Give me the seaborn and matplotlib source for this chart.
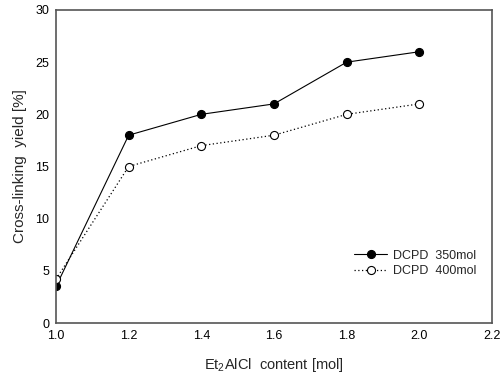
import matplotlib
matplotlib.use("Agg")
import matplotlib.pyplot as plt
import seaborn as sns
import pandas as pd

et2alcl = [1.0, 1.2, 1.4, 1.6, 1.8, 2.0]
yield_350 = [3.5, 18, 20, 21, 25, 26]
yield_400 = [4.2, 15, 17, 18, 20, 21]
x_ticks = [1.0, 1.2, 1.4, 1.6, 1.8, 2.0, 2.2]
y_ticks = [0, 5, 10, 15, 20, 25, 30]

sns.set_theme(style="white")
plt.rcParams["font.family"] = ["Liberation Sans", "DejaVu Sans"]
plt.rcParams["mathtext.fontset"] = "custom"
plt.rcParams["mathtext.rm"] = "Liberation Sans"

df = pd.DataFrame({"x": et2alcl, "a": yield_350, "b": yield_400})

fig = plt.figure(figsize=(5.04, 3.75), dpi=100)
ax = fig.add_axes([56 / 504, 1 - 323 / 375, (492 - 56) / 504, (323 - 10) / 375])

sns.lineplot(data=df, x="x", y="a", ax=ax, color="black", lw=0.8,
             marker="o", markersize=5.8, markerfacecolor="black",
             markeredgecolor="black", markeredgewidth=0.8, label="DCPD  350mol")
sns.lineplot(data=df, x="x", y="b", ax=ax, color="black", lw=0.9,
             linestyle=(0, (1, 2)), marker="o", markersize=5.8,
             markerfacecolor="white", markeredgecolor="black",
             markeredgewidth=0.8, label="DCPD  400mol")

ax.set_xlim(1.0, 2.2)
ax.set_ylim(0, 30)
ax.set_xticks(x_ticks)
ax.set_xticklabels([f"{v:.1f}" for v in x_ticks])
ax.set_yticks(y_ticks)
ax.tick_params(direction="in", length=4, width=0.8, labelsize=9, colors="black",
               pad=5)
for s in ax.spines.values():
    s.set_color("#555555")
    s.set_linewidth(1.2)

ax.set_xlabel("Et$_2$AlCl  content [mol]", fontsize=10.5, labelpad=10)
ax.set_ylabel("Cross-linking  yield [%]", fontsize=11, labelpad=6)

leg = ax.legend(loc="center right", bbox_to_anchor=(0.99, 0.19), frameon=False,
                fontsize=9, handlelength=2.6, handletextpad=0.5,
                labelspacing=0.3)

fig.savefig("out.png", dpi=100)
